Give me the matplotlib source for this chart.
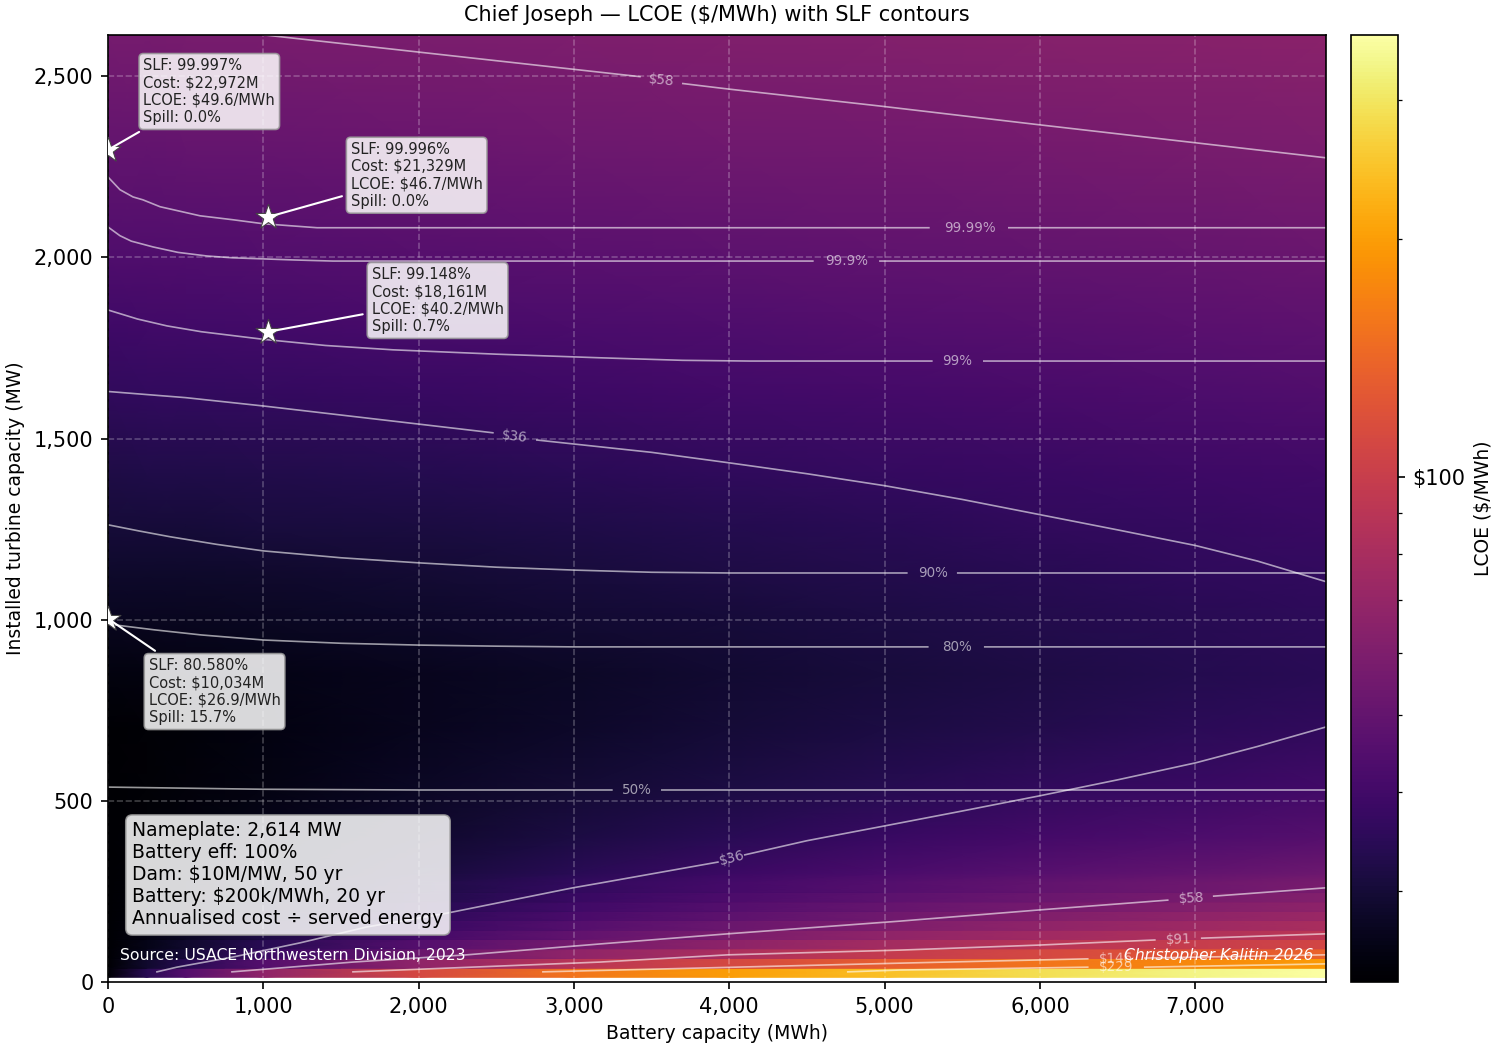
# LCOE heat map for Chief Joseph with SLF and cost contours
import numpy as np
import matplotlib
matplotlib.use('Agg')
import matplotlib.pyplot as plt
from matplotlib.colors import LogNorm
from matplotlib.ticker import FuncFormatter, NullFormatter

nan = np.nan

battery_mwh = [0, 250, 500, 1000, 2000, 3000, 4000, 5000, 6000, 7000, 7842]

# lowest turbine sizes, one row per simulated band
band_mw = np.array([26, 52, 78, 105, 131, 157, 183, 209, 235, 261])
band_lcoe = [
    [23.1, 34.1, 45.1, 67.1, 111, 155, 199, 243, 287, 331, 368],
    [23.1, 28.6, 34.1, 45.1, 67, 89, 111, 133, 155, 177, 196],
    [23.1, 26.8, 30.4, 37.8, 52.5, 67.1, 81.8, 96.5, 111, 126, 138],
    [23.1, 25.8, 28.6, 34, 44.9, 55.8, 66.7, 77.6, 88.5, 99.4, 108.6],
    [23.1, 25.3, 27.5, 31.8, 40.6, 49.3, 58.1, 66.8, 75.5, 84.3, 91.6],
    [23.1, 24.9, 26.7, 30.4, 37.7, 45, 52.3, 59.6, 66.8, 74.1, 80.3],
    [23.1, 24.7, 26.2, 29.4, 35.6, 41.9, 48.1, 54.4, 60.7, 66.9, 72.2],
    [23.1, 24.5, 25.8, 28.6, 34.1, 39.5, 45, 50.5, 56, 61.5, 66.1],
    [23.1, 24.3, 25.5, 28, 32.8, 37.7, 42.6, 47.5, 52.3, 57.2, 61.3],
    [23.1, 24.2, 25.3, 27.5, 31.9, 36.3, 40.7, 45, 49.4, 53.8, 57.5],
]

# the rest of the turbine range varies smoothly
upper_mw = np.array([300, 400, 535, 700, 850, 1000, 1130, 1260, 1400, 1630, 1800, 2000, 2300, 2614])
upper_lcoe = [
    [23.1, 24, 25, 26.9, 30.7, 34.6, 38.4, 42.2, 46, 49.8, 53.1],
    [23.1, 23.8, 24.5, 26, 28.8, 31.7, 34.5, 37.4, 40.3, 43.1, 45.5],
    [23.1, 23.6, 24.2, 25.2, 27.4, 29.5, 31.7, 33.8, 35.9, 38.1, 39.9],
    [23.2, 23.6, 24, 24.9, 26.5, 28.2, 29.8, 31.5, 33.1, 34.8, 36.1],
    [24.8, 25, 25.2, 25.6, 26.6, 27.8, 29.2, 30.6, 32, 33.3, 34.5],
    [27, 26.8, 26.8, 27.1, 28.1, 29.2, 30.4, 31.7, 33, 34.2, 35.3],
    [28.4, 28.4, 28.5, 28.8, 29.6, 30.7, 31.9, 33.1, 34.2, 35.4, 36.4],
    [30.2, 30.3, 30.4, 30.8, 31.4, 32.3, 33.5, 34.6, 35.8, 36.9, 37.9],
    [32.1, 32.3, 32.4, 32.7, 33.5, 34.4, 35.5, 36.6, 37.7, 38.9, 39.8],
    [36, 36.2, 36.4, 36.8, 37.6, 38.8, 39.9, 41, 42, 43.1, 44],
    [39.3, 39.5, 39.8, 40.2, 41.2, 42.3, 43.4, 44.4, 45.5, 46.6, 47.5],
    [43.6, 43.6, 43.8, 44.3, 45.4, 46.4, 47.5, 48.6, 49.6, 50.7, 51.6],
    [49.7, 49.9, 50.2, 50.7, 51.8, 52.9, 54, 55, 56.1, 57.2, 58.1],
    [56.4, 56.7, 56.9, 57.5, 58.6, 59.6, 60.7, 61.8, 62.8, 63.9, 64.8],
]

# contour traces, nan marks the gap left for the inline label
slf_9999_x = [0, 77, 161, 225, 335, 592, 805, 1000, 1346, 5285, nan, 5800, 7842]
slf_9999_y = [2222, 2187, 2167, 2159, 2140, 2115, 2104, 2093, 2082, 2082, nan, 2082, 2082]
slf_999_x = [0, 77, 150, 290, 450, 637, 800, 1000, 1200, 1448, 4538, nan, 4970, 7842]
slf_999_y = [2084, 2060, 2045, 2029, 2014, 2004, 1999, 1996, 1993, 1990, 1990, nan, 1990, 1990]
slf_99_x = [0, 190, 380, 600, 1000, 1400, 1835, 2500, 3167, 3700, 4133, 5304, nan, 5639, 7842]
slf_99_y = [1855, 1830, 1811, 1795, 1774, 1757, 1745, 1733, 1723, 1716, 1714, 1714, nan, 1714, 1714]
slf_90_x = [0, 200, 400, 700, 1000, 1500, 2000, 2500, 3000, 3500, 4000, 5143, nan, 5471, 7842]
slf_90_y = [1262, 1245, 1229, 1208, 1190, 1171, 1157, 1145, 1137, 1131, 1129, 1129, nan, 1129, 1129]
slf_80_x = [0, 300, 600, 1000, 1500, 2000, 2500, 3000, 5278, nan, 5645, 7842]
slf_80_y = [988, 972, 958, 944, 935, 930, 927, 925, 925, nan, 925, 925]
slf_50_x = [0, 500, 1000, 2000, 3244, nan, 3566, 7842]
slf_50_y = [538, 535, 532, 530, 530, nan, 530, 530]

cost36_upper_x = [0, 500, 1000, 1500, 2000, 2478, nan, 2761, 3500, 4000, 4500, 5000, 5500, 6000, 6500, 7000, 7400, 7842]
cost36_upper_y = [1630, 1613, 1590, 1565, 1540, 1516, nan, 1496, 1462, 1433, 1403, 1370, 1332, 1290, 1248, 1205, 1162, 1105]
cost58_upper_x = [1010, 3425, nan, 3701, 3991, 4969, 5999, 7842]
cost58_upper_y = [2614, 2499, nan, 2480, 2465, 2418, 2366, 2275]
cost36_lower_x = [315, 444, 805, 1236, 1667, 2182, 2993, 3167, 3927, nan, 4100, 4500, 5002, 5500, 5999, 6500, 7003, 7400, 7842]
cost36_lower_y = [28, 41, 69, 108, 152, 190, 260, 273, 331, nan, 351, 390, 431, 472, 514, 558, 605, 650, 704]
cost58_lower_x = [798, 1577, 2311, 3167, 3991, 5098, 5999, 6823, nan, 7119, 7842]
cost58_lower_y = [28, 55, 75, 105, 133, 168, 199, 226, nan, 237, 260]
cost91_x = [1577, 3167, 3991, 5098, 5999, 6740, nan, 7042, 7842]
cost91_y = [28, 55, 75, 88, 102, 116, nan, 121, 133]
cost146_x = [2800, 5098, 6308, nan, 6675, 7842]
cost146_y = [28, 52, 64, nan, 66, 75]
cost229_x = [4763, 5098, 6308, nan, 6675, 7842]
cost229_y = [28, 33, 41, nan, 41, 50]

contour_lines = [
    (slf_9999_x, slf_9999_y), (slf_999_x, slf_999_y), (slf_99_x, slf_99_y),
    (slf_90_x, slf_90_y), (slf_80_x, slf_80_y), (slf_50_x, slf_50_y),
    (cost36_upper_x, cost36_upper_y), (cost58_upper_x, cost58_upper_y),
    (cost36_lower_x, cost36_lower_y), (cost58_lower_x, cost58_lower_y),
    (cost91_x, cost91_y), (cost146_x, cost146_y), (cost229_x, cost229_y),
]

label_text = ['99.99%', '99.9%', '99%', '90%', '80%', '50%', '$36', '$58', '$36', '$58', '$91', '$146', '$229']
label_x = [5550, 4754, 5470, 5314, 5466, 3405, 2620, 3563, 4020, 6976, 6890, 6490, 6490]
label_y = [2082, 1990, 1714, 1129, 925, 530, 1506, 2490, 341, 232, 118, 65, 41]
label_rot = [0, 0, 0, 0, 0, 0, -7, -6, 14, 3, 2, 1, 0]

# highlighted designs
star_x = [0, 1033, 1033, 0]
star_y = [2297, 2112, 1795, 1003]
star_slf = [99.997, 99.996, 99.148, 80.580]
star_cost = [22972, 21329, 18161, 10034]
star_lcoe = [49.6, 46.7, 40.2, 26.9]
star_spill = [0.0, 0.0, 0.7, 15.7]
star_offset = [(17, 28), (39.5, 20), (49.5, 15), (19.5, -35)]

x_ticks = [0, 1000, 2000, 3000, 4000, 5000, 6000, 7000]
y_ticks = [0, 500, 1000, 1500, 2000, 2500]

fig = plt.figure(figsize=(10, 7), dpi=150)
ax = fig.add_axes([108 / 1500, 68 / 1050, 1218 / 1500, 947 / 1050])
cax = fig.add_axes([1351 / 1500, 68 / 1050, 47 / 1500, 947 / 1050])

# each low band is drawn with a flat top and bottom edge
half_band = 13.07
mesh_y = np.r_[np.column_stack([band_mw - half_band, band_mw + half_band]).ravel(), upper_mw]
mesh_z = np.vstack([np.repeat(band_lcoe, 2, axis=0), upper_lcoe])

norm = LogNorm(vmin=23, vmax=362)
mesh = ax.pcolormesh(battery_mwh, mesh_y, mesh_z, shading='gouraud', cmap='inferno', norm=norm)

ax.grid(True, color='white', alpha=0.25, linestyle='--', linewidth=0.8)

for xs, ys in contour_lines:
    ax.plot(xs, ys, color='white', alpha=0.6, linewidth=0.8)

for txt, lx, ly, rot in zip(label_text, label_x, label_y, label_rot):
    ax.text(lx, ly, txt, color='white', alpha=0.6, fontsize=6.5, ha='center', va='center',
            rotation=rot, rotation_mode='anchor')

ax.set_xlim(0, 7842)
ax.set_ylim(0, 2614)
ax.set_xticks(x_ticks)
ax.set_yticks(y_ticks)
ax.xaxis.set_major_formatter(FuncFormatter(lambda v, _: f'{v:,.0f}'))
ax.yaxis.set_major_formatter(FuncFormatter(lambda v, _: f'{v:,.0f}'))
ax.set_xlabel('Battery capacity (MWh)', fontsize=9, labelpad=3.5)
ax.set_ylabel('Installed turbine capacity (MW)', fontsize=9, labelpad=4)
ax.set_title('Chief Joseph — LCOE (\\$/MWh) with SLF contours', fontsize=10, pad=6.5)

ax.scatter(star_x, star_y, marker='*', s=160, color='white', edgecolor='#444444', linewidth=0.5, zorder=5)

for i in range(len(star_x)):
    note = (f'SLF: {star_slf[i]:.3f}%\nCost: \\${star_cost[i]:,}M\n'
            f'LCOE: \\${star_lcoe[i]:.1f}/MWh\nSpill: {star_spill[i]:.1f}%')
    ax.annotate(note, xy=(star_x[i], star_y[i]), xytext=star_offset[i], textcoords='offset points',
                fontsize=7, color='#222222', ha='left', va='center', linespacing=1.2, zorder=6,
                bbox=dict(boxstyle='round,pad=0.3', facecolor='white', edgecolor='#999999', linewidth=0.8, alpha=0.85),
                arrowprops=dict(arrowstyle='-', color='white', linewidth=1.0))

params = ('Nameplate: 2,614 MW\nBattery eff: 100%\nDam: \\$10M/MW, 50 yr\n'
          'Battery: \\$200k/MWh, 20 yr\nAnnualised cost ÷ served energy')
ax.text(0.02, 0.0565, params, transform=ax.transAxes, fontsize=9, color='black', va='bottom', ha='left',
        linespacing=1.2, zorder=6,
        bbox=dict(boxstyle='round,pad=0.35', facecolor='white', edgecolor='#999999', linewidth=0.8, alpha=0.85))
ax.text(0.01, 0.0285, 'Source: USACE Northwestern Division, 2023', transform=ax.transAxes,
        fontsize=7.5, color='white', va='center', ha='left', zorder=6)
ax.text(0.99, 0.0285, 'Christopher Kalitin 2026', transform=ax.transAxes,
        fontsize=7.5, color='white', style='italic', va='center', ha='right', zorder=6)

cb = fig.colorbar(mesh, cax=cax)
cb.ax.yaxis.set_major_formatter(FuncFormatter(lambda v, _: f'\\${v:,.0f}'))
cb.ax.yaxis.set_minor_formatter(NullFormatter())
cb.set_label('LCOE ($/MWh)', fontsize=9)

fig.savefig('out.png', dpi=150)
